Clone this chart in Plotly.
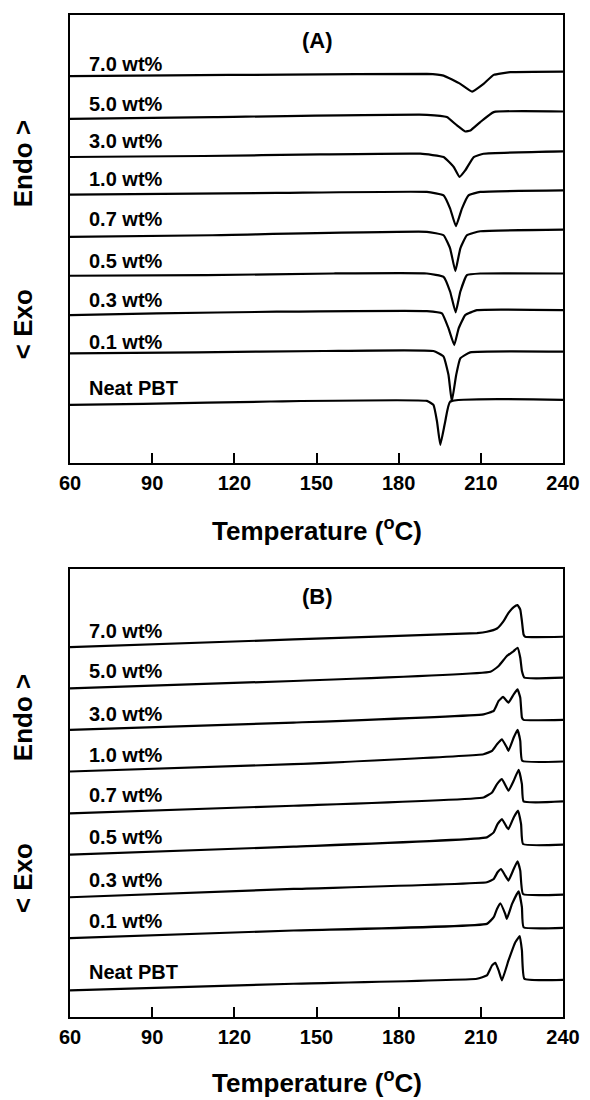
import plotly.graph_objects as go

# ---------------- data ----------------
labels = ["7.0 wt%", "5.0 wt%", "3.0 wt%", "1.0 wt%", "0.7 wt%",
          "0.5 wt%", "0.3 wt%", "0.1 wt%", "Neat PBT"]

# Panel A (cooling) : temperature (°C) / heat flow (a.u., stacked)
a_T_70 = [60, 96.5, 139.2, 190.3, 196.4, 202.5, 206.8, 211.0, 214.7, 220.8, 240]
a_Y_70 = [387.7, 388.5, 389.3, 390.0, 388.3, 380.0, 372.3, 380.0, 389.0, 391.7, 392.3]
a_T_50 = [60, 112.4, 190.3, 197.6, 201.3, 204.3, 206.2, 209.8, 214.7, 240]
a_Y_50 = [345.0, 346.7, 349.0, 346.7, 338.3, 332.3, 333.3, 341.7, 351.7, 352.3]
a_T_30 = [60, 108.7, 151.3, 187.9, 196.4, 200.1, 202.2, 204.3, 207.4, 211.0, 240]
a_Y_30 = [306.7, 307.7, 309.3, 310.0, 306.7, 296.7, 286.7, 293.3, 306.7, 310.0, 312.3]
a_T_10 = [60, 135.5, 190.3, 196.4, 198.8, 200.9, 203.1, 205.5, 209.8, 240]
a_Y_10 = [269.0, 270.7, 271.7, 268.3, 255.0, 237.3, 255.0, 268.3, 271.7, 273.3]
a_T_07 = [60, 112.0, 190.3, 196.4, 198.8, 200.7, 202.5, 204.9, 209.8, 240]
a_Y_07 = [226.7, 228.3, 231.7, 228.3, 215.0, 192.3, 215.0, 228.3, 232.3, 234.0]
a_T_05 = [60, 109.9, 156.2, 190.3, 196.4, 198.8, 200.8, 202.5, 204.9, 209.8, 240]
a_Y_05 = [187.7, 188.3, 190.0, 190.0, 186.7, 171.7, 151.0, 171.7, 188.3, 190.0, 190.0]
a_T_03 = [60, 91.7, 135.5, 190.3, 195.8, 198.2, 200.3, 201.9, 204.3, 208.6, 240]
a_Y_03 = [148.3, 150.0, 151.7, 152.3, 150.0, 135.0, 118.3, 135.0, 148.3, 153.3, 153.3]
a_T_01 = [60, 106.3, 152.6, 192.7, 196.4, 198.2, 199.4, 201.0, 202.5, 206.1, 240]
a_Y_01 = [110.0, 111.0, 112.3, 112.3, 106.7, 88.3, 61.7, 88.3, 105.0, 111.0, 111.7]
a_T_00 = [60, 86.8, 133.1, 190.3, 192.7, 194.0, 195.2, 197.0, 198.8, 240]
a_Y_00 = [58.3, 59.3, 61.7, 62.3, 58.3, 41.7, 18.3, 41.7, 61.7, 63.3]

# Panel B (heating)
b_T_70 = [60, 141.6, 208.6, 212.2, 215.9, 218.3, 220.1, 222.0, 223.4, 224.4, 225.0, 225.6, 226.2, 240]
b_Y_70 = [370.7, 378.3, 384.7, 386.0, 389.3, 396.7, 405.0, 410.7, 412.7, 408.3, 396.7, 383.3, 381.0, 381.0]
b_T_50 = [60, 141.6, 213.5, 216.5, 219.5, 222.0, 223.4, 224.4, 225.0, 225.9, 240]
b_Y_50 = [329.3, 336.7, 346.0, 351.7, 361.7, 366.7, 370.0, 360.0, 346.7, 340.0, 340.0]
b_T_30 = [60, 141.6, 211.0, 214.7, 216.5, 218.1, 220.1, 222.0, 223.4, 224.4, 225.0, 225.6, 240]
b_Y_30 = [287.7, 295.0, 303.3, 306.7, 316.7, 320.7, 315.0, 323.3, 328.3, 320.0, 300.0, 297.7, 297.7]
b_T_10 = [60, 141.6, 211.0, 214.1, 215.9, 217.7, 219.5, 220.1, 222.0, 223.4, 224.4, 225.1, 240]
b_Y_10 = [246.0, 253.3, 263.3, 266.7, 273.3, 278.3, 270.0, 266.7, 280.0, 287.7, 276.7, 256.7, 256.0]
b_T_07 = [60, 141.6, 211.0, 214.1, 215.9, 217.7, 220.1, 222.0, 223.8, 225.0, 225.6, 240]
b_Y_07 = [204.0, 211.7, 220.0, 225.0, 233.3, 238.3, 226.7, 236.7, 247.7, 233.3, 216.0, 216.0]
b_T_05 = [60, 141.6, 212.2, 214.7, 216.1, 217.7, 219.5, 220.1, 222.0, 223.6, 224.7, 225.4, 240]
b_Y_05 = [162.7, 170.7, 180.0, 185.0, 193.3, 198.3, 190.0, 188.3, 200.0, 206.7, 193.3, 173.3, 172.7]
b_T_03 = [60, 141.6, 212.2, 214.7, 216.1, 217.4, 218.9, 220.1, 222.0, 223.4, 224.4, 225.4, 240]
b_Y_03 = [120.0, 128.3, 135.0, 138.3, 145.0, 148.3, 141.7, 136.7, 148.3, 156.0, 146.7, 123.3, 122.7]
b_T_01 = [60, 141.6, 212.2, 214.7, 215.9, 217.1, 218.9, 219.5, 221.4, 223.8, 225.0, 225.6, 240]
b_Y_01 = [79.0, 86.7, 93.3, 100.0, 108.3, 114.0, 103.3, 98.3, 113.3, 126.0, 110.0, 90.0, 89.3]
b_T_00 = [60, 141.6, 208.6, 212.2, 214.1, 215.3, 216.5, 217.7, 220.1, 222.6, 224.2, 225.0, 225.9, 240]
b_Y_00 = [26.7, 33.3, 38.3, 41.7, 51.7, 54.3, 46.7, 36.7, 56.7, 75.0, 81.0, 66.7, 38.3, 37.3]

# label heights (a.u.)
a_label_y = [400.0, 360.0, 322.3, 285.0, 245.0, 202.3, 163.3, 121.7, 75.0]
b_label_y = [386.7, 346.7, 304.0, 262.7, 222.7, 180.0, 137.3, 96.0, 45.0]
label_T = 66.1
panel_names = ["(A)", "(B)"]
panel_name_T = 150.4
panel_name_y = [423.3, 421.7]

x_ticks = [60, 90, 120, 150, 180, 210, 240]

a_curves = [(a_T_70, a_Y_70), (a_T_50, a_Y_50), (a_T_30, a_Y_30), (a_T_10, a_Y_10),
            (a_T_07, a_Y_07), (a_T_05, a_Y_05), (a_T_03, a_Y_03), (a_T_01, a_Y_01),
            (a_T_00, a_Y_00)]
b_curves = [(b_T_70, b_Y_70), (b_T_50, b_Y_50), (b_T_30, b_Y_30), (b_T_10, b_Y_10),
            (b_T_07, b_Y_07), (b_T_05, b_Y_05), (b_T_03, b_Y_03), (b_T_01, b_Y_01),
            (b_T_00, b_Y_00)]

# ---------------- figure ----------------
FONT = "Liberation Sans, Arial, sans-serif"
fig = go.Figure()

for panel, curves in enumerate([a_curves, b_curves]):
    xa = "x" if panel == 0 else "x2"
    ya = "y" if panel == 0 else "y2"
    for name, (T, Y) in zip(labels, curves):
        fig.add_trace(go.Scatter(x=T, y=Y, mode="lines", name=name, xaxis=xa, yaxis=ya,
                                 line=dict(color="black", width=2.2, shape="spline", smoothing=0.35),
                                 showlegend=False, hoverinfo="skip"))

axis_common = dict(range=[60, 240], tickmode="array", tickvals=x_ticks,
                   ticks="inside", ticklen=10, tickwidth=2, tickcolor="black",
                   showline=True, linewidth=2, linecolor="black", mirror=True,
                   showgrid=False, zeroline=False, ticklabelstandoff=1,
                   tickfont=dict(family=FONT, size=20, color="black", weight="bold"))
yaxis_common = dict(range=[0, 449], showticklabels=False, ticks="",
                    showline=True, linewidth=2, linecolor="black", mirror=True,
                    showgrid=False, zeroline=False)

# the page body adds an 8 px margin around the figure
fig.update_layout(
    width=582, height=1092,
    margin=dict(l=62, r=27, t=5, b=83),
    paper_bgcolor="white", plot_bgcolor="white",
    xaxis=dict(domain=[0, 1], anchor="y", **axis_common),
    yaxis=dict(domain=[0.5528, 1], anchor="x", **yaxis_common),
    xaxis2=dict(domain=[0, 1], anchor="y2", **axis_common),
    yaxis2=dict(domain=[0, 0.4472], anchor="x2", **yaxis_common),
)

annotations = []
title_y = [-0.149, -0.143]
for panel, (lab_y, xr, yr) in enumerate([(a_label_y, "x", "y"), (b_label_y, "x2", "y2")]):
    for name, ly in zip(labels, lab_y):
        annotations.append(dict(x=label_T, y=ly, xref=xr, yref=yr, text=name, showarrow=False,
                                xanchor="left", yanchor="middle",
                                font=dict(family=FONT, size=20, color="black", weight="bold")))
    annotations.append(dict(x=panel_name_T, y=panel_name_y[panel], xref=xr, yref=yr,
                            text=panel_names[panel], showarrow=False, xanchor="center", yanchor="middle",
                            font=dict(family=FONT, size=22, color="black", weight="bold")))
    annotations.append(dict(x=0.5, y=title_y[panel], xref=xr + " domain", yref=yr + " domain",
                            text="Temperature (<sup>o</sup>C)", showarrow=False,
                            xanchor="center", yanchor="middle",
                            font=dict(family=FONT, size=26, color="black", weight="bold")))
    annotations.append(dict(x=-0.0953, y=0.667, xref=xr + " domain", yref=yr + " domain",
                            text="Endo >", textangle=-90, showarrow=False,
                            xanchor="center", yanchor="middle",
                            font=dict(family=FONT, size=26, color="black", weight="bold")))
    annotations.append(dict(x=-0.0953, y=0.31, xref=xr + " domain", yref=yr + " domain",
                            text="< Exo", textangle=-90, showarrow=False,
                            xanchor="center", yanchor="middle",
                            font=dict(family=FONT, size=26, color="black", weight="bold")))

fig.update_layout(annotations=annotations)
fig.write_html("out.html")
